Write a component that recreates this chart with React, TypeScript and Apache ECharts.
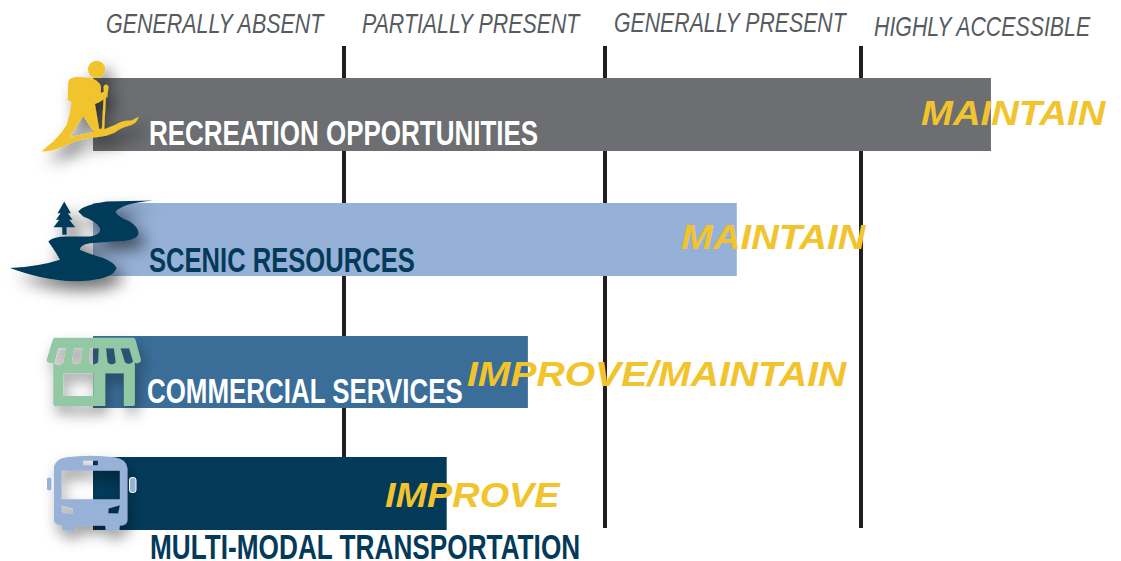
import React, { useEffect, useRef } from "react";
import * as echarts from "echarts";

const categories = ["RECREATION OPPORTUNITIES", "SCENIC RESOURCES", "COMMERCIAL SERVICES", "MULTI-MODAL TRANSPORTATION"];
const levels = [3.503, 2.52, 1.712, 1.398];
const actions = ["MAINTAIN", "MAINTAIN", "IMPROVE/MAINTAIN", "IMPROVE"];
const tierLabels = ["GENERALLY ABSENT", "PARTIALLY PRESENT", "GENERALLY PRESENT", "HIGHLY ACCESSIBLE"];
const tierLines = [1, 2.01, 2.995];

const barColors = ["#6d6e71", "#95b1d7", "#3a6e98", "#033a5a"];
const nameColors = ["#ffffff", "#033a5a", "#ffffff", "#033a5a"];
const gridBoxes = [[78, 73], [203, 73], [336, 72], [457, 73]];
const nameBoxes = [[149, 133, 0.722], [149, 260, 0.711], [147, 391, 0.72], [150, 547, 0.728]];
const actionBoxes = [[921, 113, 1.094], [681, 237, 1.094], [467, 374, 1.117], [385, 495, 1.082]];
const tierBoxes = [[106, 24, 0.795], [362, 24, 0.79], [614, 23, 0.788], [874, 27, 0.79]];

const BODY = '"Liberation Sans", sans-serif';
const YELLOW = "#f1c42e";

const hiker =
  "M205 125 Q210 111 232 111 L270 113 Q300 122 303 140 L303 160 L312 155 L311 140 Q318 128 326 140 L322 172 L318 172 L313 268 L345 255 Q370 240 395 242 L417 230 Q410 255 385 258 Q360 265 345 278 Q320 290 290 292 Q240 295 200 315 Q160 335 125 335 Q135 325 160 305 Q185 280 200 255 Q210 225 215 187 L203 180 Z " +
  "M250 228 L208 292 L282 276 Z M285 192 L298 268 L306 266 L311 178 Q295 190 285 192 Z " +
  "M264 88 A26 26 0 1 1 316 88 A26 26 0 1 1 264 88 Z";
const river =
  "M30 685 Q120 680 180 660 Q170 640 145 605 Q160 590 200 590 L270 590 Q305 585 300 565 Q290 545 250 530 L235 515 Q250 495 320 485 L460 482 Q370 490 347 515 Q350 530 390 545 Q420 565 415 585 Q405 605 340 605 L270 610 Q240 615 240 630 Q260 640 310 655 Q345 670 350 685 Q340 715 270 722 Q200 730 120 712 Q70 700 30 685 Z " +
  "M193 485 L213 520 L204 520 L218 540 L208 540 L226 562 L200 562 L200 585 L187 585 L187 562 L161 562 L178 540 L168 540 L182 520 L173 520 Z";
const store =
  "M165 53 L400 53 Q405 53 407 60 L423 118 Q424 130 410 130 L405 128 L405 252 Q405 258 399 258 L372 258 L372 160 L316 160 L316 258 L166 258 Q160 258 160 252 L160 130 Q140 130 140 120 L158 60 Q160 53 165 53 Z " +
  "M190 160 L190 228 L280 228 L280 160 Z M175 85 L163 130 Q175 140 190 130 L198 85 Z M222 85 L215 128 Q228 140 243 128 L248 85 Z M270 85 L267 125 Q278 140 295 128 L297 85 Z M318 85 L323 128 Q335 140 348 128 L342 85 Z M362 85 L375 128 Q388 138 400 125 L388 85 Z";
const bus =
  "M162 440 Q170 415 200 412 Q270 403 345 412 Q380 418 383 445 L383 600 Q383 618 360 618 L358 632 L318 634 L316 618 L228 618 L226 634 L188 632 L186 618 Q162 615 162 600 Z " +
  "M185 453 L185 538 L360 538 L360 453 Z M250 423 L250 436 L294 436 L294 423 Z M185 557 L186 575 Q190 582 220 581 L218 566 Z M326 566 L325 580 L355 581 L360 556 Z";

echarts.graphic.registerShape("hiker", echarts.graphic.extendPath(hiker, {}));
echarts.graphic.registerShape("river", echarts.graphic.extendPath(river, {}));
echarts.graphic.registerShape("store", echarts.graphic.extendPath(store, {}));
echarts.graphic.registerShape("bus", echarts.graphic.extendPath(bus, {}));

const strongShadow = { shadowBlur: 16, shadowColor: "rgba(0,0,0,0.55)", shadowOffsetX: 7, shadowOffsetY: 9 };
const softShadow = { shadowBlur: 14, shadowColor: "rgba(0,0,0,0.38)", shadowOffsetX: 3, shadowOffsetY: 8 };

function buildOption() {
  const axisBase = { min: 0.03, max: 4.006, show: false };
  const grids: any[] = gridBoxes.map(([top, height]) => ({ left: 93, width: 1028, top, height }));
  grids.push({ left: 93, width: 1028, top: 46, height: 482 });

  const xAxis: any[] = grids.map((_, i) => ({ ...axisBase, type: "value", gridIndex: i }));
  const yAxis: any[] = categories.map((c, i) => ({ type: "category", gridIndex: i, data: [c], show: false }));
  yAxis.push({ type: "category", gridIndex: 4, data: ["tiers"], show: false });

  const series: any[] = categories.map((c, i) => ({
    type: "bar",
    name: c,
    xAxisIndex: i,
    yAxisIndex: i,
    data: [levels[i]],
    barWidth: "100%",
    z: 2,
    itemStyle: { color: barColors[i] },
    silent: true,
  }));
  series.push({
    type: "bar",
    name: "tiers",
    xAxisIndex: 4,
    yAxisIndex: 4,
    data: [],
    z: 1,
    markLine: {
      silent: true,
      symbol: "none",
      z: 1,
      label: { show: false },
      lineStyle: { color: "#231f20", width: 4, type: "solid" },
      data: tierLines.map((v) => ({ xAxis: v })),
    },
  });

  const icon = (type: string, y: number, color: string, shadow: any) => ({
    type,
    x: 0,
    y,
    scaleX: 1 / 3,
    scaleY: 1 / 3,
    z: 10,
    silent: true,
    style: { fill: color, ...shadow },
  });

  const elements: any[] = [
    icon("hiker", 40, YELLOW, strongShadow),
    icon("river", 40, "#043a5a", strongShadow),
    icon("store", 320, "#92c8a4", softShadow),
    icon("bus", 320, "#97b1d7", softShadow),
    { type: "rect", z: 10, silent: true, shape: { x: 46.5, y: 477, width: 5.5, height: 14, r: 2.5 }, style: { fill: "#97b1d7", stroke: "#ffffff", lineWidth: 1 } },
    { type: "rect", z: 10, silent: true, shape: { x: 129.5, y: 477.5, width: 6.5, height: 15, r: 2.5 }, style: { fill: "#97b1d7", stroke: "#ffffff", lineWidth: 1 } },
  ];

  tierLabels.forEach((t, i) => {
    elements.push({
      type: "text",
      x: tierBoxes[i][0],
      y: tierBoxes[i][1],
      scaleX: tierBoxes[i][2],
      z: 11,
      silent: true,
      style: { text: t, fill: "#565b61", font: `italic 400 27px ${BODY}`, textAlign: "left", textVerticalAlign: "middle" },
    });
  });
  categories.forEach((c, i) => {
    elements.push({
      type: "text",
      x: nameBoxes[i][0],
      y: nameBoxes[i][1],
      scaleX: nameBoxes[i][2],
      z: 11,
      silent: true,
      style: { text: c, fill: nameColors[i], font: `700 36px ${BODY}`, lineHeight: 28, textAlign: "left", textVerticalAlign: "middle" },
    });
  });
  actions.forEach((a, i) => {
    elements.push({
      type: "text",
      x: actionBoxes[i][0],
      y: actionBoxes[i][1],
      scaleX: actionBoxes[i][2],
      z: 12,
      silent: true,
      style: { text: a, fill: YELLOW, font: `italic 700 35px ${BODY}`, textAlign: "left", textVerticalAlign: "middle" },
    });
  });

  return { animation: false, backgroundColor: "#ffffff", grid: grids, xAxis, yAxis, series, graphic: { elements } };
}

export default function App() {
  const ref = useRef<HTMLDivElement>(null);
  useEffect(() => {
    const chart = echarts.init(ref.current!, undefined, { renderer: "svg" });
    chart.setOption(buildOption());
    return () => chart.dispose();
  }, []);
  return <div ref={ref} style={{ position: "absolute", left: 0, top: 0, width: 1121, height: 561 }} />;
}
